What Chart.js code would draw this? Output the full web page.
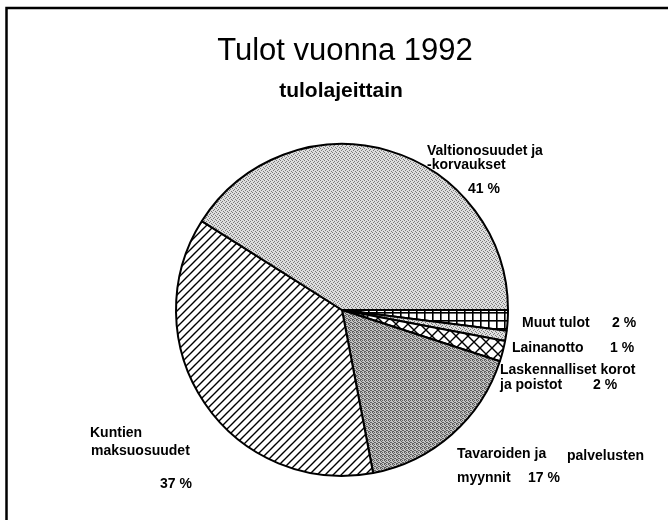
<!DOCTYPE html>
<html>
<head>
<meta charset="utf-8">
<script src="https://cdn.jsdelivr.net/npm/chart.js@4.4.1/dist/chart.umd.min.js"></script>
<style>
  html, body { margin: 0; padding: 0; background: #fff; }
  canvas { display: block; }
</style>
</head>
<body>
<canvas id="tulot-chart" width="668" height="520"></canvas>
<script>
// Data (clockwise from 3 o'clock)
const categories = ['Muut tulot', 'Lainanotto', 'Laskennalliset korot ja poistot',
    'Tavaroiden ja palvelusten myynnit', 'Kuntien maksuosuudet', 'Valtionosuudet ja -korvaukset'];
const shares = [2, 1, 2, 17, 37, 41];
const titleText = 'Tulot vuonna 1992';
const subtitleText = 'tulolajeittain';

// Label layout: text lines per category, '%' = value of the slice
const labelLayout = [
    [['Muut tulot', 522, 327], ['%', 612, 327]],
    [['Lainanotto', 512, 352], ['%', 610, 352]],
    [['Laskennalliset korot', 500, 374], ['ja poistot', 500, 389], ['%', 593, 389]],
    [['Tavaroiden ja', 457, 458], ['palvelusten', 567, 460], ['myynnit', 457, 482], ['%', 528, 482]],
    [['Kuntien', 90, 437], ['maksuosuudet', 91, 455], ['%', 160, 488]],
    [['Valtionosuudet ja', 427, 155], ['-korvaukset', 427, 169], ['%', 468, 193]]
];

document.addEventListener('DOMContentLoaded', function () {
    const canvas = document.getElementById('tulot-chart');
    const ctx = canvas.getContext('2d');

    function makePattern(size, draw) {
        const c = document.createElement('canvas');
        c.width = size;
        c.height = size;
        const g = c.getContext('2d');
        draw(g, size);
        return ctx.createPattern(c, 'repeat');
    }

    // light gray stipple
    const lightStipple = makePattern(4, function (g) {
        g.fillStyle = '#dedede';
        g.fillRect(0, 0, 4, 4);
        g.fillStyle = '#7a7a7a';
        [[0, 0], [2, 1], [1, 2], [3, 3]].forEach(p => g.fillRect(p[0], p[1], 1, 1));
    });
    // darker stipple
    const darkStipple = makePattern(4, function (g) {
        g.fillStyle = '#c4c4c4';
        g.fillRect(0, 0, 4, 4);
        g.fillStyle = '#5e5e5e';
        [[0, 0], [2, 0], [1, 1], [3, 2], [0, 3], [2, 2], [1, 3]].forEach(p => g.fillRect(p[0], p[1], 1, 1));
    });
    // diagonal hatching "/"
    const hatch = makePattern(8, function (g) {
        g.fillStyle = '#fff';
        g.fillRect(0, 0, 8, 8);
        g.strokeStyle = '#000';
        g.lineWidth = 1.4;
        g.beginPath();
        g.moveTo(0, 8); g.lineTo(8, 0);
        g.moveTo(-1, 1); g.lineTo(1, -1);
        g.moveTo(7, 9); g.lineTo(9, 7);
        g.stroke();
    });
    // square grid
    const grid = makePattern(8, function (g) {
        g.fillStyle = '#fff';
        g.fillRect(0, 0, 8, 8);
        g.fillStyle = '#000';
        g.fillRect(0, 0, 8, 1.6);
        g.fillRect(0, 0, 1.6, 8);
    });
    // diamond cross-hatch
    const cross = makePattern(12, function (g) {
        g.fillStyle = '#fff';
        g.fillRect(0, 0, 12, 12);
        g.strokeStyle = '#000';
        g.lineWidth = 1.4;
        g.beginPath();
        g.moveTo(0, 0); g.lineTo(12, 12);
        g.moveTo(0, 12); g.lineTo(12, 0);
        g.stroke();
    });

    const fills = [grid, lightStipple, cross, darkStipple, hatch, lightStipple];

    const textPlugin = {
        id: 'textPlugin',
        beforeDraw(chart) {
            const c = chart.ctx;
            c.save();
            c.fillStyle = '#fff';
            c.fillRect(0, 0, chart.width, chart.height);
            c.strokeStyle = '#000';
            c.lineWidth = 2.5;
            c.strokeRect(6.5, 8, 720, 600);
            c.restore();
        },
        afterDraw(chart) {
            const c = chart.ctx;
            c.save();
            c.fillStyle = '#000';
            c.textBaseline = 'alphabetic';
            c.textAlign = 'center';
            c.font = '31px "Liberation Sans", Arial, sans-serif';
            c.fillText(titleText, 345, 60);
            c.font = 'bold 21px "Liberation Sans", Arial, sans-serif';
            c.fillText(subtitleText, 341, 97);

            c.textAlign = 'left';
            c.font = 'bold 14px "Liberation Sans", Arial, sans-serif';
            labelLayout.forEach(function (lines, i) {
                lines.forEach(function (l) {
                    const txt = l[0] === '%' ? shares[i] + ' %' : l[0];
                    c.fillText(txt, l[1], l[2]);
                });
            });
            c.restore();
        }
    };

    new Chart(ctx, {
        type: 'pie',
        data: {
            labels: categories,
            datasets: [{
                data: shares,
                backgroundColor: fills,
                borderColor: '#000',
                borderWidth: 2
            }]
        },
        options: {
            responsive: false,
            animation: false,
            rotation: 90,
            layout: {
                padding: { left: 175, right: 159, top: 143, bottom: 43 }
            },
            plugins: {
                legend: { display: false },
                tooltip: { enabled: false }
            }
        },
        plugins: [textPlugin]
    });
});
</script>
</body>
</html>
